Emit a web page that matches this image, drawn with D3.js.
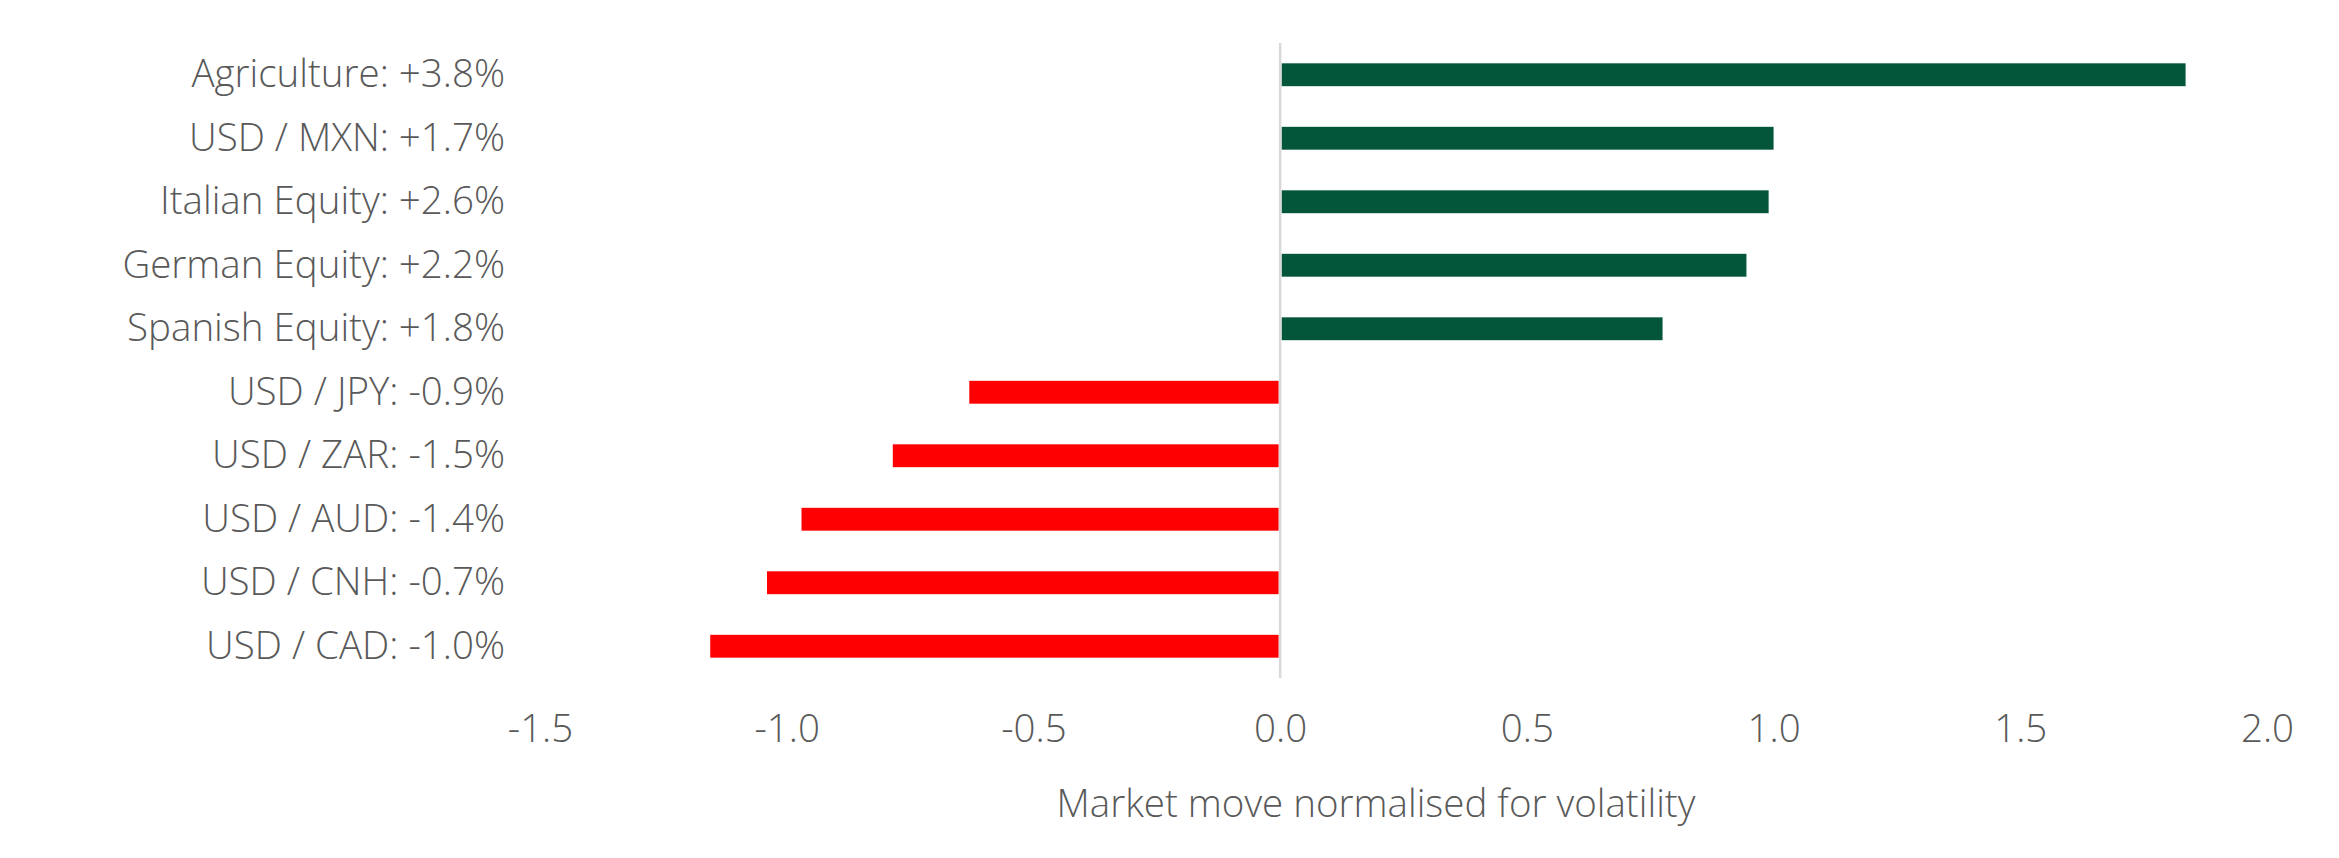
<!DOCTYPE html>
<html>
<head>
<meta charset="utf-8">
<script src="https://cdn.jsdelivr.net/npm/d3@7"></script>
<style>
  html, body { margin: 0; padding: 0; background: #ffffff; }
  svg { display: block; }
  text { font-family: "Open Sans", "Noto Sans", sans-serif; font-weight: 300; fill: #595959; }
</style>
</head>
<body>
<svg id="chart" width="2339" height="858"></svg>
<script>
// ---- Data ----
const categories = [
  "Agriculture: +3.8%",
  "USD / MXN: +1.7%",
  "Italian Equity: +2.6%",
  "German Equity: +2.2%",
  "Spanish Equity: +1.8%",
  "USD / JPY: -0.9%",
  "USD / ZAR: -1.5%",
  "USD / AUD: -1.4%",
  "USD / CNH: -0.7%",
  "USD / CAD: -1.0%"
];
const values = [1.835, 1.00, 0.99, 0.945, 0.775, -0.63, -0.785, -0.97, -1.04, -1.155];
const xTicks = [-1.5, -1.0, -0.5, 0.0, 0.5, 1.0, 1.5, 2.0];
const xDomain = [-1.5, 2.0];
const axisTitle = "Market move normalised for volatility";

// ---- Layout ----
const svg = d3.select("#chart");
const plot = { left: 540, right: 2267, top: 43, bottom: 678 };
const posColor = "#03563A";
const negColor = "#FF0000";
const fontSize = 38.5;

const x = d3.scaleLinear().domain(xDomain).range([plot.left, plot.right]);
const y = d3.scaleBand().domain(categories).range([plot.top, plot.bottom])
  .paddingInner(0.64).paddingOuter(0.32);

const rows = categories.map((c, i) => ({ cat: c, val: values[i] }));

// bars
svg.append("g").selectAll("rect").data(rows).join("rect")
  .attr("x", d => Math.min(x(0), x(d.val)) + (d.val >= 0 ? 1.5 : 0))
  .attr("width", d => Math.abs(x(d.val) - x(0)) - 1.5)
  .attr("y", d => y(d.cat))
  .attr("height", y.bandwidth())
  .attr("fill", d => d.val >= 0 ? posColor : negColor);

// zero line
svg.append("line")
  .attr("x1", x(0)).attr("x2", x(0))
  .attr("y1", plot.top).attr("y2", plot.bottom)
  .attr("stroke", "#d9d9d9").attr("stroke-width", 2.5);

// category labels (left axis, no line / ticks)
const yAxis = d3.axisLeft(y).tickSize(0).tickPadding(0);
const gy = svg.append("g").attr("transform", "translate(505,0)").call(yAxis);
gy.select(".domain").remove();
gy.selectAll("text")
  .attr("font-size", fontSize)
  .attr("font-family", null)
  .attr("dy", "0.32em")
  .style("fill", "#595959");

// x axis tick labels
const xAxis = d3.axisBottom(x).tickValues(xTicks).tickSize(0).tickPadding(0)
  .tickFormat(d3.format(".1f"));
const gx = svg.append("g").attr("transform", "translate(0,742)").call(xAxis);
gx.select(".domain").remove();
gx.selectAll("text")
  .attr("font-size", fontSize)
  .attr("font-family", null)
  .attr("dy", 0)
  .attr("y", 0)
  .text(d => d < 0 ? "-" + Math.abs(d).toFixed(1) : d3.format(".1f")(d))
  .style("fill", "#595959");

// axis title
svg.append("text")
  .attr("x", 1376).attr("y", 817)
  .attr("text-anchor", "middle")
  .attr("font-size", fontSize)
  .text(axisTitle);
</script>
</body>
</html>
